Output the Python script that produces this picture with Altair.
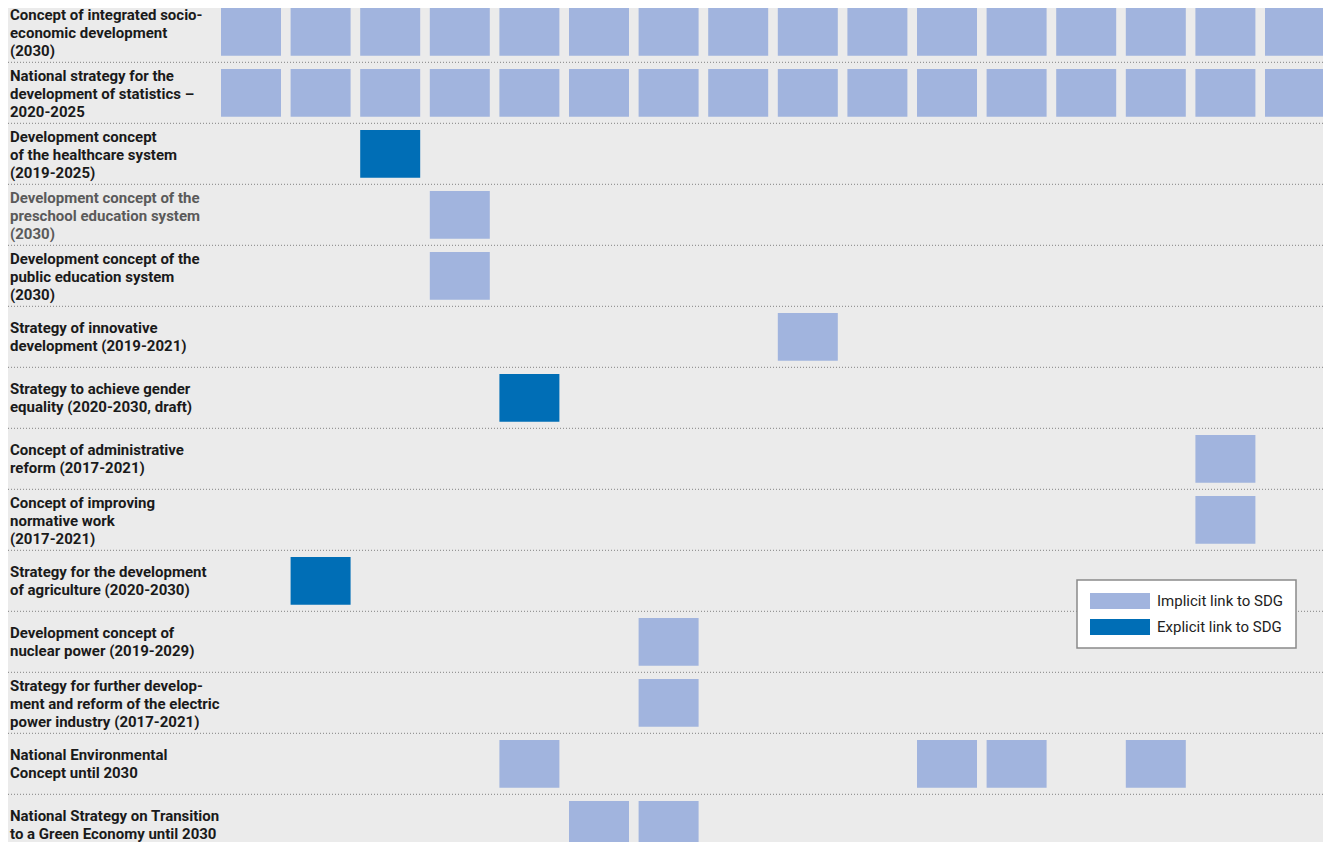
import altair as alt
import pandas as pd

rows = [
    "Concept of integrated socio-\neconomic development\n(2030)",
    "National strategy for the\ndevelopment of statistics –\n2020-2025",
    "Development  concept\nof the healthcare system\n(2019-2025)",
    "Development concept of the\npreschool education system\n(2030)",
    "Development concept of the\npublic education system\n(2030)",
    "Strategy of innovative\ndevelopment (2019-2021)",
    "Strategy to achieve gender\nequality (2020-2030, draft)",
    "Concept of administrative\nreform (2017-2021)",
    "Concept of improving\nnormative work\n(2017-2021)",
    "Strategy for the development\nof agriculture (2020-2030)",
    "Development  concept of\nnuclear power (2019-2029)",
    "Strategy for further develop-\nment and reform of the electric\npower industry (2017-2021)",
    "National Environmental\nConcept until 2030",
    "National Strategy on Transition\nto a Green Economy until 2030",
]
sdgs = [1, 2, 3, 4, 5, 6, 7, 8, 9, 10, 11, 12, 13, 14, 15, 16]
implicit = [
    [1, 2, 3, 4, 5, 6, 7, 8, 9, 10, 11, 12, 13, 14, 15, 16],
    [1, 2, 3, 4, 5, 6, 7, 8, 9, 10, 11, 12, 13, 14, 15, 16],
    [],
    [4],
    [4],
    [9],
    [],
    [15],
    [15],
    [],
    [7],
    [7],
    [5, 11, 12, 14],
    [6, 7],
]
explicit = [[], [], [3], [], [], [], [5], [], [], [2], [], [], [], []]
link_types = ["Implicit link to SDG", "Explicit link to SDG"]
link_colors = ["#a1b4de", "#006eb6"]

cells = []
for r, lst in zip(rows, implicit):
    for s in lst:
        cells.append({"row": r, "sdg": s, "link": link_types[0]})
for r, lst in zip(rows, explicit):
    for s in lst:
        cells.append({"row": r, "sdg": s, "link": link_types[1]})
cells_df = pd.DataFrame(cells)
rows_df = pd.DataFrame({"row": rows, "nlines": [r.count("\n") + 1 for r in rows]})

W, H = 1315, 834
Y_RANGE = [-6.6, 847.4]

rects = alt.Chart(cells_df).mark_rect().encode(
    x=alt.X("sdg:O", scale=alt.Scale(domain=sdgs, range=[213, 1317], paddingInner=0.138,
                                     paddingOuter=0, round=False), axis=None),
    y=alt.Y("row:N", scale=alt.Scale(domain=rows, type="band", range=Y_RANGE, paddingInner=0.216,
                                     paddingOuter=0.108, round=False), axis=None),
    color=alt.Color(
        "link:N",
        scale=alt.Scale(domain=link_types, range=link_colors),
        legend=alt.Legend(
            title=None,
            orient="none",
            legendX=1069,
            legendY=572,
            symbolType="M-3.75,-1H3.75V1H-3.75Z",
            symbolSize=256,
            symbolOffset=22,
            symbolStrokeWidth=0,
            labelFont="Roboto",
            labelFontSize=15,
            labelColor="#222222",
            labelOffset=29,
            padding=13,
            rowPadding=10,
            fillColor="#ffffff",
            strokeColor="#8a8a8a",
            cornerRadius=0,
        ),
    ),
)

rules = alt.Chart(rows_df).mark_rule(color="#969696", strokeDash=[1, 2], strokeWidth=1.2).encode(
    y=alt.Y("row:N", bandPosition=0, scale=alt.Scale(domain=rows, type="band", range=Y_RANGE,
                                                     paddingInner=0, paddingOuter=0, round=False), axis=None),
    x=alt.value(0),
    x2=alt.value(W),
)


def label_layer(n, dy):
    return alt.Chart(rows_df).transform_filter(alt.datum.nlines == n).mark_text(
        align="left", baseline="middle", font="Roboto", fontSize=15, fontWeight="bold",
        lineBreak="\n", lineHeight=17.7, dy=dy,
    ).encode(
        y=alt.Y("row:N", scale=alt.Scale(domain=rows, type="band", range=Y_RANGE,
                                         paddingInner=0, paddingOuter=0, round=False), axis=None),
        x=alt.value(2),
        text="row:N",
        color=alt.condition(alt.datum.row == rows[3], alt.value("#5a5a5a"), alt.value("#1a1a1a")),
    )


labels2 = label_layer(2, -8.85)
labels3 = label_layer(3, -16.5)

chart = alt.layer(rules, rects, labels2, labels3).resolve_scale(y="independent").properties(
    width=W, height=H, padding=0, autosize=alt.AutoSizeParams(type="none"),
    background="#ebebeb",
).configure_view(stroke=None).configure_legend(strokeWidth=1.5)

chart.save("out.html", embed_options={"renderer": "svg", "actions": False})
